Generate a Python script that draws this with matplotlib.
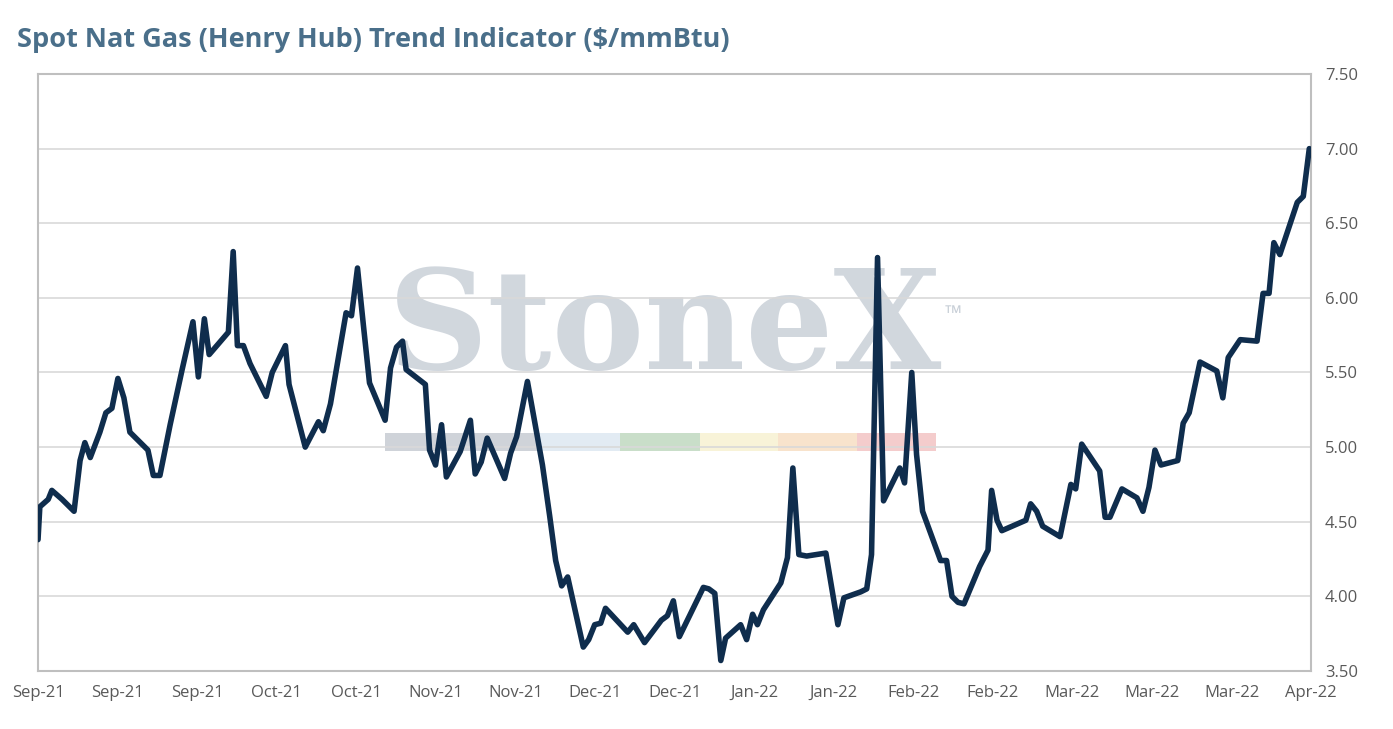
import matplotlib
matplotlib.use("Agg")
import matplotlib.pyplot as plt
import numpy as np

days = [0,0.3,1.7,2.3,4,6,7,7.8,8.7,10.3,11.3,12.3,13.3,14.3,15.3,18.3,19.2,20.3,22,24,25.8,26.7,27.7,28.5,31.7,32.5,33.2,34.2,35.3,38,39,41.2,41.8,44.5,46.7,47.5,48.7,51.3,52.2,53.2,54.2,55.2,57.8,58.7,59.7,60.7,61.3,64.5,65.2,66.2,67.2,68,70.3,72,72.8,73.8,74.8,77.7,78.7,79.7,81.5,84,85.2,86.2,87.2,88.2,90.8,91.7,92.7,93.7,94.5,98.2,99.2,101,103.8,104.8,105.8,106.8,110.8,111.7,112.7,113.7,114.5,117,118,119,119.8,120.8,123.7,124.8,125.7,126.7,128,131.2,133.2,134.2,137,138,138.8,139.8,140.8,143.5,144.3,145.5,146.3,147.3,150.3,151.3,152.2,153.2,154.2,156.8,158.2,158.8,159.7,160.5,164.5,165.3,166.3,167.3,170.2,172,172.8,173.8,176.8,177.7,178.5,180.5,183,184,185,186,187,189.8,190.7,191.7,193.5,196.3,197.3,198.2,199.2,200.2,203,204,205,205.8,206.8,209.7,210.7,211.7]
prices = [4.38,4.60,4.65,4.71,4.65,4.57,4.91,5.03,4.93,5.10,5.23,5.26,5.46,5.33,5.10,4.98,4.81,4.81,5.15,5.52,5.84,5.47,5.86,5.62,5.77,6.31,5.68,5.68,5.56,5.34,5.50,5.68,5.42,5.00,5.17,5.11,5.29,5.90,5.88,6.20,5.81,5.43,5.18,5.53,5.67,5.71,5.52,5.42,4.98,4.88,5.15,4.80,4.97,5.18,4.82,4.90,5.06,4.79,4.96,5.07,5.44,4.88,4.54,4.24,4.07,4.13,3.66,3.71,3.81,3.82,3.92,3.76,3.81,3.69,3.84,3.87,3.97,3.73,4.06,4.05,4.02,3.57,3.72,3.81,3.71,3.88,3.81,3.91,4.09,4.26,4.86,4.28,4.27,4.29,3.81,3.99,4.03,4.05,4.28,6.27,4.64,4.86,4.76,5.50,4.95,4.57,4.24,4.24,4.00,3.96,3.95,4.20,4.31,4.71,4.51,4.44,4.51,4.62,4.57,4.47,4.40,4.75,4.72,5.02,4.84,4.53,4.53,4.72,4.66,4.57,4.73,4.98,4.88,4.91,5.16,5.23,5.57,5.51,5.33,5.60,5.66,5.72,5.71,6.03,6.03,6.37,6.29,6.64,6.68,7.00]
tick_labels = ["Sep-21","Sep-21","Sep-21","Oct-21","Oct-21","Nov-21","Nov-21","Dec-21","Dec-21",
               "Jan-22","Jan-22","Feb-22","Feb-22","Mar-22","Mar-22","Mar-22","Apr-22"]
y_ticks = [3.5,4.0,4.5,5.0,5.5,6.0,6.5,7.0,7.5]

plt.rcParams['font.family'] = ['Open Sans', 'DejaVu Sans']
fig = plt.figure(figsize=(13.93, 7.29), dpi=100)
ax = fig.add_axes([0.0273, 0.0796, 0.9139, 0.8189])

# watermark
ax.text(0.4925, 0.505, "StoneX", transform=ax.transAxes, ha='center', va='baseline',
        fontsize=100, family='DejaVu Serif', fontweight='bold', color='#c9d0d8', alpha=0.85, zorder=0)
ax.text(0.712, 0.595, "™", transform=ax.transAxes, ha='left', va='center', fontsize=16, color='#c9d0d8', zorder=0)
cols = ['#c4c9d0', '#dbe6f1', '#bcd6bc', '#f7f0cf', '#f7dcc0', '#f2c0c0']
xs = [0.2726, 0.394, 0.457, 0.520, 0.581, 0.643, 0.705]
for i, c in enumerate(cols):
    ax.add_patch(plt.Rectangle((xs[i], 0.368), xs[i+1]-xs[i], 0.03, transform=ax.transAxes,
                               color=c, alpha=0.8, lw=0, zorder=0))

ax.plot(days, prices, color='#0f2d4d', lw=4, solid_capstyle='round', solid_joinstyle='round', zorder=3)
ax.set_xlim(0, 212)
ax.set_ylim(3.5, 7.5)
ax.set_yticks(y_ticks)
ax.set_yticklabels([f"{v:.2f}" for v in y_ticks])
ax.yaxis.tick_right()
ax.set_xticks(np.linspace(0, 212, len(tick_labels)))
ax.set_xticklabels(tick_labels)
ax.tick_params(length=0, labelsize=12, colors='#595959', pad=10)
ax.grid(axis='y', color='#d9d9d9', lw=1.2)
for s in ax.spines.values():
    s.set_color('#bfbfbf'); s.set_linewidth(1.5)
fig.text(0.012, 0.945, "Spot Nat Gas (Henry Hub) Trend Indicator ($/mmBtu)", fontsize=19.5,
         fontweight='bold', color='#4a6f8a', ha='left', va='center')
fig.savefig("out.png", dpi=100)
